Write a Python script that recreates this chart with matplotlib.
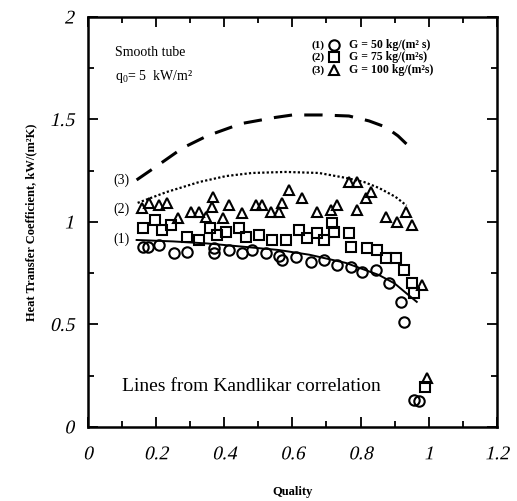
# plot.py
#       Flow boiling heat transfer coefficient vs quality, smooth tube

import matplotlib.pyplot as plt
from matplotlib.ticker import MultipleLocator
from matplotlib.patheffects import AbstractPathEffect
from matplotlib.transforms import Affine2D

plt.rcParams['font.family'] = ['Liberation Serif', 'DejaVu Serif']
plt.rcParams['mathtext.fontset'] = 'custom'
plt.rcParams['mathtext.rm'] = 'Liberation Serif'
plt.rcParams['mathtext.it'] = 'Liberation Serif:italic'
plt.rcParams['mathtext.bf'] = 'Liberation Serif:bold'


# slant the glyphs, the italic face is not always there
class Slant(AbstractPathEffect):
    def draw_path(self, renderer, gc, tpath, affine, rgbFace=None):
        renderer.draw_path(gc, tpath, Affine2D().skew_deg(13, 0) + affine, rgbFace)


# Kandlikar correlation lines
line3_x = [0.143, 0.20, 0.278, 0.35, 0.45, 0.55, 0.60, 0.687, 0.766, 0.825, 0.874, 0.91, 0.947]
line3_y = [1.205, 1.27, 1.361, 1.42, 1.48, 1.51, 1.522, 1.522, 1.517, 1.493, 1.463, 1.42, 1.361]

line2_x = [0.146, 0.231, 0.327, 0.406, 0.482, 0.58, 0.678, 0.757, 0.81, 0.854, 0.903, 0.935]
line2_y = [1.093, 1.146, 1.195, 1.224, 1.239, 1.244, 1.239, 1.215, 1.195, 1.166, 1.122, 1.08]

line1_x = [0.143, 0.25, 0.35, 0.45, 0.56, 0.65, 0.757, 0.854, 0.90, 0.933, 0.965]
line1_y = [0.912, 0.905, 0.895, 0.88, 0.863, 0.84, 0.80, 0.741, 0.70, 0.654, 0.61]

# measured data, G = 50 kg/(m2 s)
g50_x = [0.161, 0.175, 0.21, 0.254, 0.292, 0.371, 0.371, 0.415, 0.453, 0.482, 0.524, 0.56,
         0.57, 0.61, 0.655, 0.693, 0.731, 0.772, 0.804, 0.845, 0.883, 0.918, 0.927,
         0.956, 0.971]
g50_y = [0.878, 0.878, 0.888, 0.849, 0.854, 0.849, 0.873, 0.863, 0.849, 0.863, 0.849, 0.834,
         0.815, 0.83, 0.805, 0.815, 0.79, 0.78, 0.756, 0.766, 0.702, 0.61, 0.512,
         0.132, 0.125]

# measured data, G = 75 kg/(m2 s)
g75_x = [0.161, 0.196, 0.216, 0.245, 0.292, 0.327, 0.357, 0.38, 0.406, 0.444, 0.465, 0.503,
         0.541, 0.58, 0.62, 0.643, 0.673, 0.693, 0.716, 0.722, 0.766, 0.772, 0.819,
         0.848, 0.874, 0.903, 0.927, 0.95, 0.956, 0.99]
g75_y = [0.97, 1.01, 0.96, 0.985, 0.927, 0.912, 0.97, 0.937, 0.951, 0.97, 0.927, 0.937,
         0.912, 0.912, 0.961, 0.922, 0.946, 0.912, 0.995, 0.951, 0.946, 0.878, 0.873,
         0.863, 0.824, 0.824, 0.766, 0.702, 0.654, 0.195]

# measured data, G = 100 kg/(m2 s)
g100_x = [0.158, 0.18, 0.21, 0.231, 0.263, 0.304, 0.327, 0.348, 0.366, 0.363, 0.395, 0.415,
          0.453, 0.494, 0.512, 0.538, 0.561, 0.59, 0.57, 0.629, 0.673, 0.714, 0.731,
          0.766, 0.789, 0.79, 0.816, 0.83, 0.874, 0.906, 0.933, 0.95, 0.98, 0.994]
g100_y = [1.068, 1.093, 1.083, 1.093, 1.02, 1.049, 1.049, 1.024, 1.122, 1.073, 1.02, 1.083,
          1.044, 1.083, 1.083, 1.049, 1.049, 1.156, 1.093, 1.117, 1.049, 1.059, 1.083,
          1.195, 1.059, 1.195, 1.117, 1.146, 1.024, 1.0, 1.049, 0.985, 0.693, 0.239]

x_ticks = [0, 0.2, 0.4, 0.6, 0.8, 1.0, 1.2]
x_ticklabels = ['0', '0.2', '0.4', '0.6', '0.8', '1', '1.2']
y_ticks = [0, 0.5, 1, 1.5, 2]
y_ticklabels = ['0', '0.5', '1', '1.5', '2']


fig = plt.figure(figsize=(5.17, 5.01), dpi=100)
ax = fig.add_axes([0.170, 0.148, 0.791, 0.818])

ax.plot(line3_x, line3_y, color='k', lw=2.2, dashes=(6, 4))
ax.plot(line2_x, line2_y, color='k', lw=1.6, dashes=(1, 1.0))
ax.plot(line1_x, line1_y, color='k', lw=1.4)

mk = dict(linestyle='none', markerfacecolor='none', markeredgecolor='k',
          markeredgewidth=1.5, markersize=7.5)
ax.plot(g50_x, g50_y, marker='o', **mk)
ax.plot(g75_x, g75_y, marker='s', **mk)
ax.plot(g100_x, g100_y, marker='^', **mk)

ax.set_xlim(0, 1.2)
ax.set_ylim(0, 2)
ax.xaxis.set_minor_locator(MultipleLocator(0.1))
ax.yaxis.set_minor_locator(MultipleLocator(0.25))
ax.tick_params(which='both', direction='in', top=True, right=True, width=1.3)
ax.tick_params(which='major', length=7, labelsize=14)
ax.tick_params(axis='x', which='major', pad=14)
ax.tick_params(axis='y', which='major', pad=10)
ax.tick_params(which='minor', length=4)
ax.set_xticks(x_ticks)
ax.set_xticklabels(x_ticklabels, path_effects=[Slant()])
ax.set_yticks(y_ticks)
ax.set_yticklabels(y_ticklabels, path_effects=[Slant()])
for s in ax.spines.values():
    s.set_linewidth(1.8)

ax.set_xlabel('Quality', fontsize=9, fontweight='bold', labelpad=16)
ax.set_ylabel('Heat Transfer Coefficient, kW/(m²K)', fontsize=9, fontweight='bold',
              labelpad=9)

ax.text(0.08, 1.81, 'Smooth tube', fontsize=10)
ax.text(0.08, 1.695, 'q$_0$= 5  kW/m²', fontsize=10)

leg_y = [1.863, 1.805, 1.741]
leg_lab = ['(1)', '(2)', '(3)']
leg_txt = ['G = 50 kg/(m² s)', 'G = 75 kg/(m²s)', 'G = 100 kg/(m²s)']
leg_mk = ['o', 's', '^']
for yy, lb, tx, m in zip(leg_y, leg_lab, leg_txt, leg_mk):
    ax.text(0.655, yy, lb, fontsize=8, fontweight='bold', va='center')
    ax.plot([0.722], [yy], marker=m, **mk)
    ax.text(0.765, yy, tx, fontsize=8.5, fontweight='bold', va='center')

ax.text(0.075, 1.205, '(3)', fontsize=10, va='center')
ax.text(0.075, 1.06, '(2)', fontsize=10, va='center')
ax.text(0.075, 0.915, '(1)', fontsize=10, va='center')

ax.text(0.1, 0.195, 'Lines from Kandlikar correlation', fontsize=14, va='center')

fig.savefig('out.png', dpi=100)
